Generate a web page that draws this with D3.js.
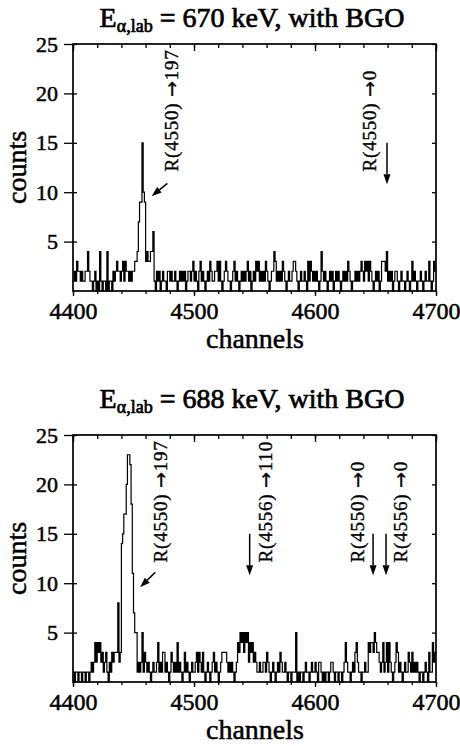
<!DOCTYPE html>
<html>
<head>
<meta charset="utf-8">
<script src="https://cdn.jsdelivr.net/npm/d3@7"></script>
<style>
    body { margin: 0; background: #fff; }
    text { font-family: "Liberation Serif", "Times New Roman", serif; fill: #000; }
</style>
</head>
<body>
<svg id="mainsvg" width="460" height="746"></svg>
<script>
// channel range and ticks
let channelDomain = [4400, 4700];
let xMajorTicks = [4400, 4500, 4600, 4700];
let xMinorTicks = d3.range(4400, 4701, 20);
let yTicks = [5, 10, 15, 20, 25];

let energies = ["670", "688"];

// counts per channel, 4400 ... 4699
let counts670 = [
    1,2,1,3,2,2,1,2,1,1, 2,2,4,2,1,1,0,1,2,0,
    1,0,4,1,0,1,1,0,4,0, 1,1,0,2,1,2,3,2,2,1,
    2,3,1,3,2,2,1,2,1,2, 2,3,3,4,7,9,9,15,10,9,
    3,4,3,3,4,4,6,1,0,2, 1,2,0,1,2,1,1,0,2,2,
    1,2,1,1,2,1,0,1,2,1, 2,1,2,0,1,2,2,1,2,3,
    1,2,1,0,2,3,1,2,1,0, 1,2,1,3,2,1,1,2,2,3,
    1,3,1,0,1,2,3,2,1,1, 0,1,2,3,1,2,1,0,1,2,
    1,2,1,2,3,1,2,0,1,2, 1,3,2,3,1,2,1,2,1,3,
    2,1,0,1,2,2,4,3,1,2, 1,2,1,3,2,1,0,1,2,1,
    1,2,3,3,2,1,0,1,2,1, 1,2,1,0,3,1,3,2,1,2,
    1,2,1,0,1,4,2,1,2,1, 0,1,2,1,2,0,1,2,1,2,
    1,0,1,2,1,2,1,3,2,1, 0,1,1,2,1,2,1,2,3,2,
    1,3,2,3,1,3,2,1,0,1, 2,1,2,0,1,3,3,3,2,4,
    1,2,1,2,0,1,2,2,1,0, 1,2,1,1,0,1,2,1,0,1,
    3,1,2,1,0,1,1,2,1,0, 1,2,1,1,3,1,0,1,3,2
];
let counts688 = [
    1,0,1,1,0,1,1,0,1,1, 0,1,1,0,1,2,1,2,4,2,
    4,3,4,2,3,1,2,3,1,0, 2,1,3,2,3,3,3,8,2,3,
    14,15,17,17,20,23,23,22,18,11, 7,5,5,1,2,1,2,5,1,3,
    2,1,2,1,0,1,2,1,1,2, 4,1,2,1,3,3,1,2,1,0,
    1,3,2,1,2,1,4,1,2,1, 0,1,3,1,2,1,0,1,2,1,
    1,2,3,1,3,2,1,3,1,0, 1,2,1,0,1,2,3,1,2,1,
    0,1,2,3,3,3,3,2,1,2, 1,2,1,0,1,2,4,3,5,4,
    5,3,5,4,5,2,4,3,4,2, 3,2,1,1,2,1,1,2,2,1,
    3,2,1,0,1,2,1,0,1,2, 1,3,2,1,1,2,1,0,1,1,
    0,1,1,1,5,0,1,0,1,1, 0,1,2,1,1,0,1,2,1,1,
    2,1,0,2,2,1,0,1,0,1, 1,0,1,2,2,1,0,1,1,0,
    1,1,0,1,2,4,2,1,1,0, 1,2,1,3,4,2,1,1,0,1,
    1,2,1,1,4,3,4,4,3,5, 4,3,3,2,1,2,4,1,2,4,
    1,4,2,1,0,1,2,4,3,1, 2,1,0,1,2,1,1,3,2,1,
    3,1,2,1,2,1,0,1,1,0, 1,2,1,0,3,1,1,4,2,3
];

// annotations: label foot (channel, counts) and arrow (from -> tip) in data units
let notes670 = [
    { level: "R(4550)", to: "197", ch: 4487, c: 12.1, from: [4478, 10.9], tip: [4465, 9.6] },
    { level: "R(4550)", to: "0", ch: 4650, c: 12.1, from: [4659.5, 15], tip: [4659.5, 10.8] }
];
let notes688 = [
    { level: "R(4550)", to: "197", ch: 4478, c: 12.1, from: [4468, 11.1], tip: [4455.5, 9.6] },
    { level: "R(4556)", to: "110", ch: 4564.5, c: 12.1, from: [4546, 15], tip: [4546, 10.8] },
    { level: "R(4550)", to: "0", ch: 4640.5, c: 12.1, from: [4648, 15], tip: [4648, 10.8] },
    { level: "R(4556)", to: "0", ch: 4676, c: 12.1, from: [4658.7, 15], tip: [4658.7, 10.8] }
];

let svg = d3.select("#mainsvg");
let frameLeft = 73, frameRight = 436, frameHeight = 247;

let drawPanel = function(top, titleY, energy, counts, notes) {
    let g = svg.append("g");
    let x = d3.scaleLinear().domain(channelDomain).range([frameLeft, frameRight]);
    let y = d3.scaleLinear().domain([0, 25]).range([top + frameHeight, top]);
    let bottom = top + frameHeight;

    // spectrum as a step line
    let pts = counts.map((c, i) => [channelDomain[0] + i, c]);
    pts.push([channelDomain[1], counts[counts.length - 1]]);
    let line = d3.line().x(d => x(d[0])).y(d => y(d[1])).curve(d3.curveStepAfter);
    g.append("path")
        .attr("d", line(pts))
        .attr("fill", "none")
        .attr("stroke", "#000")
        .attr("stroke-width", 1.2);

    // frame
    g.append("rect")
        .attr("x", frameLeft).attr("y", top)
        .attr("width", frameRight - frameLeft).attr("height", frameHeight)
        .attr("fill", "none").attr("stroke", "#000").attr("stroke-width", 1.7);

    // top ticks (inside)
    g.append("g").attr("transform", `translate(0,${top})`)
        .call(d3.axisTop(x).tickValues(xMinorTicks).tickSize(-4).tickFormat(""));
    g.append("g").attr("transform", `translate(0,${top})`)
        .call(d3.axisTop(x).tickValues(xMajorTicks).tickSize(-7).tickFormat(""));
    // bottom ticks + labels
    g.append("g").attr("transform", `translate(0,${bottom})`)
        .call(d3.axisBottom(x).tickValues(xMinorTicks).tickSize(3).tickFormat(""));
    let xb = g.append("g").attr("transform", `translate(0,${bottom})`)
        .call(d3.axisBottom(x).tickValues(xMajorTicks).tickSize(5).tickPadding(6).tickFormat(d3.format("d")));
    // left ticks + labels, right ticks
    let yl = g.append("g").attr("transform", `translate(${frameLeft},0)`)
        .call(d3.axisLeft(y).tickValues(yTicks).tickSize(9).tickPadding(6));
    g.append("g").attr("transform", `translate(${frameLeft},0)`)
        .call(d3.axisLeft(y).tickValues(yTicks).tickSize(-4).tickFormat(""));
    g.append("g").attr("transform", `translate(${frameRight},0)`)
        .call(d3.axisRight(y).tickValues(yTicks).tickSize(-4).tickFormat(""));

    g.selectAll(".domain").remove();
    g.selectAll(".tick line").attr("stroke", "#000").attr("stroke-width", 1.3);
    g.selectAll(".tick text")
        .attr("fill", "#000")
        .attr("stroke", "#000").attr("stroke-width", 0.5);
    xb.selectAll(".tick text").attr("font-size", 24);
    yl.selectAll(".tick text").attr("font-size", 22);

    // title
    let t = g.append("text")
        .attr("x", 252).attr("y", titleY)
        .attr("text-anchor", "middle")
        .attr("font-size", 28)
        .attr("stroke", "#000").attr("stroke-width", 0.7);
    t.append("tspan").text("E");
    t.append("tspan").attr("font-size", 18).attr("dy", 5).text("\u03b1,lab");
    t.append("tspan").attr("dy", -5).text(" = " + energy + " keV, with BGO");

    // axis titles
    g.append("text")
        .attr("transform", `translate(26,${(top + bottom) / 2}) rotate(-90)`)
        .attr("text-anchor", "middle")
        .attr("font-size", 28)
        .attr("stroke", "#000").attr("stroke-width", 0.5)
        .text("counts");
    g.append("text")
        .attr("x", 255).attr("y", bottom + 57)
        .attr("text-anchor", "middle")
        .attr("font-size", 28)
        .attr("stroke", "#000").attr("stroke-width", 0.5)
        .text("channels");

    // annotations
    for (let n of notes) {
        let lab = g.append("text")
            .attr("transform", `translate(${x(n.ch)},${y(n.c)}) rotate(-90)`)
            .attr("font-size", 19)
            .attr("letter-spacing", 0.8)
            .attr("stroke", "#000").attr("stroke-width", 0.35);
        lab.append("tspan").text(n.level + " ");
        lab.append("tspan").attr("style", "font-family:'DejaVu Sans'").text("\u2192");
        lab.append("tspan").text(n.to);
        let x1 = x(n.from[0]), y1 = y(n.from[1]);
        let x2 = x(n.tip[0]), y2 = y(n.tip[1]);
        let a = Math.atan2(y2 - y1, x2 - x1);
        let hl = 10, hw = 3.5;
        let bx = x2 - hl * Math.cos(a), by = y2 - hl * Math.sin(a);
        g.append("line")
            .attr("x1", x1).attr("y1", y1).attr("x2", bx).attr("y2", by)
            .attr("stroke", "#000").attr("stroke-width", 1.5);
        g.append("path")
            .attr("d", `M${x2},${y2}L${bx + hw * Math.sin(a)},${by - hw * Math.cos(a)}L${bx - hw * Math.sin(a)},${by + hw * Math.cos(a)}Z`)
            .attr("fill", "#000");
    }
};

drawPanel(44, 27, energies[0], counts670, notes670);
drawPanel(435, 408, energies[1], counts688, notes688);
</script>
</body>
</html>
